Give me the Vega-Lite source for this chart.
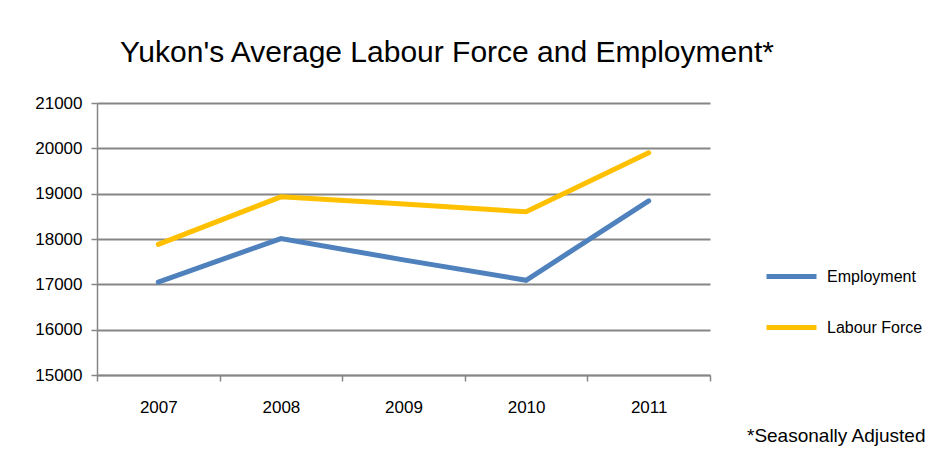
{
  "$schema": "https://vega.github.io/schema/vega-lite/v6.json",
  "autosize": {"type": "none"},
  "width": 613,
  "height": 272,
  "padding": {"left": 97, "top": 103, "right": 227, "bottom": 86},
  "background": "white",
  "title": {
    "text": "Yukon's Average Labour Force and Employment*",
    "anchor": "start",
    "frame": "group",
    "dx": 23,
    "offset": 26,
    "font": "Liberation Sans",
    "fontSize": 30,
    "fontWeight": "normal",
    "color": "#000000"
  },
  "data": {
    "values": [
      {"year": "2007", "series": "Employment", "value": 17050},
      {"year": "2008", "series": "Employment", "value": 18010},
      {"year": "2009", "series": "Employment", "value": 17540},
      {"year": "2010", "series": "Employment", "value": 17090},
      {"year": "2011", "series": "Employment", "value": 18840},
      {"year": "2007", "series": "Labour Force", "value": 17880},
      {"year": "2008", "series": "Labour Force", "value": 18930},
      {"year": "2009", "series": "Labour Force", "value": 18770},
      {"year": "2010", "series": "Labour Force", "value": 18600},
      {"year": "2011", "series": "Labour Force", "value": 19900}
    ]
  },
  "mark": {"type": "line", "strokeWidth": 5, "strokeCap": "round"},
  "encoding": {
    "x": {
      "field": "year",
      "type": "ordinal",
      "scale": {"paddingInner": 0, "paddingOuter": 0},
      "axis": {
        "title": "*Seasonally Adjusted",
        "titleFont": "Liberation Sans",
        "titleFontSize": 19,
        "titleFontWeight": "normal",
        "titleColor": "#000000",
        "titleAnchor": "start",
        "titleAlign": "right",
        "titleBaseline": "middle",
        "titleX": 828,
        "titleY": 60,
        "labelAngle": 0,
        "labelFont": "Liberation Sans",
        "labelFontSize": 17,
        "labelColor": "#000000",
        "labelPadding": 18,
        "tickBand": "extent",
        "tickSize": 6,
        "tickColor": "#868686",
        "tickWidth": 1.5,
        "domainColor": "#868686",
        "domainWidth": 1.5,
        "grid": false
      }
    },
    "y": {
      "field": "value",
      "type": "quantitative",
      "scale": {"domain": [15000, 21000], "nice": false, "zero": false},
      "axis": {
        "title": null,
        "values": [15000, 16000, 17000, 18000, 19000, 20000, 21000],
        "format": "d",
        "labelFont": "Liberation Sans",
        "labelFontSize": 17,
        "labelColor": "#000000",
        "labelPadding": 9,
        "tickSize": 6,
        "tickColor": "#868686",
        "tickWidth": 1.5,
        "domainColor": "#868686",
        "domainWidth": 1.5,
        "gridColor": "#868686",
        "gridWidth": 2
      }
    },
    "color": {
      "field": "series",
      "type": "nominal",
      "scale": {"domain": ["Employment", "Labour Force"], "range": ["#4F81BD", "#FFC000"]},
      "legend": {
        "title": null,
        "orient": "none",
        "legendX": 667,
        "legendY": 146,
        "symbolType": "stroke",
        "symbolSize": 2500,
        "symbolStrokeWidth": 5,
        "labelFont": "Liberation Sans",
        "labelFontSize": 16,
        "labelColor": "#000000",
        "labelOffset": 8,
        "rowPadding": 13
      }
    }
  },
  "config": {"view": {"stroke": null}}
}
